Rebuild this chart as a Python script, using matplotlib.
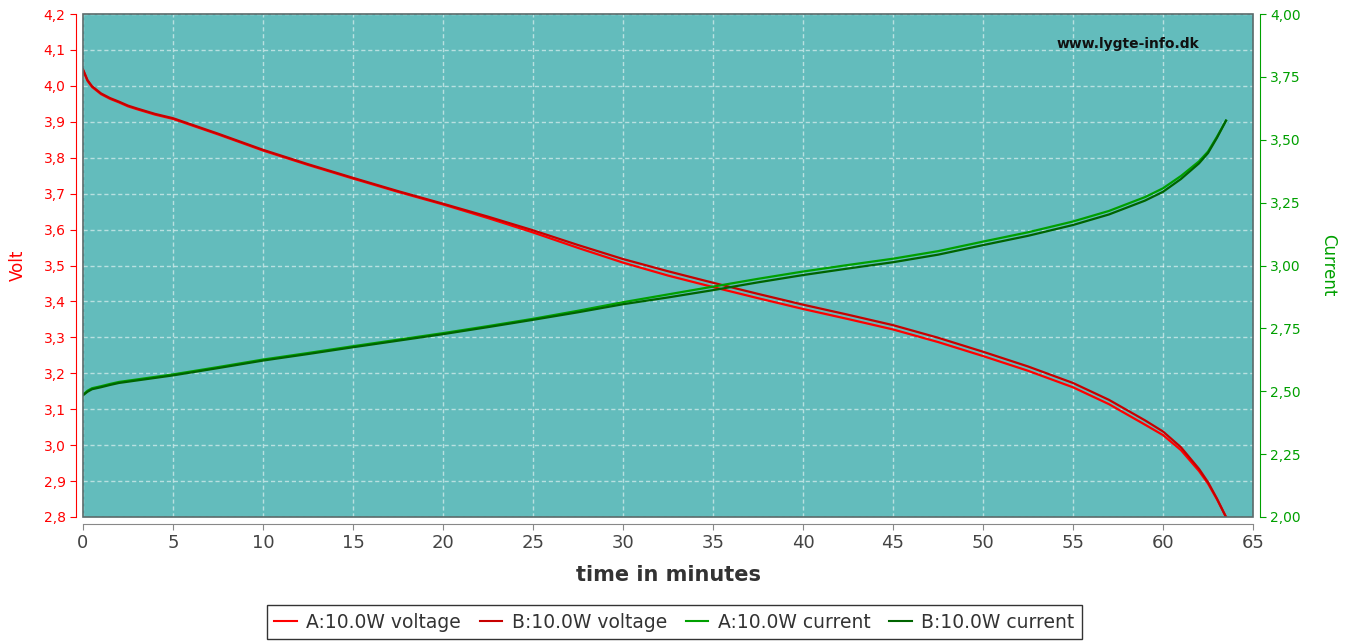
import matplotlib
matplotlib.use("Agg")
import matplotlib.pyplot as plt
from matplotlib.lines import Line2D
from matplotlib.patches import Rectangle
from matplotlib.ticker import MultipleLocator, FuncFormatter

# time in minutes
minutes = [0, 0.25, 0.5, 1, 1.5, 2, 2.5, 3, 4, 5, 7.5, 10, 12.5, 15, 17.5, 20,
           22.5, 25, 27.5, 30, 32.5, 35, 37.5, 40, 42.5, 45, 47.5, 50, 52.5, 55,
           57, 59, 60, 61, 62, 62.5, 63, 63.5]

volt_a = [4.044, 4.014, 3.997, 3.977, 3.964, 3.954, 3.943, 3.935, 3.920, 3.908,
          3.865, 3.820, 3.780, 3.742, 3.705, 3.670, 3.632, 3.592, 3.549, 3.508,
          3.472, 3.440, 3.409, 3.379, 3.351, 3.322, 3.287, 3.248, 3.207, 3.161,
          3.114, 3.057, 3.028, 2.986, 2.928, 2.893, 2.849, 2.800]
volt_b = [4.046, 4.016, 3.999, 3.979, 3.966, 3.956, 3.945, 3.937, 3.922, 3.910,
          3.867, 3.822, 3.782, 3.744, 3.707, 3.672, 3.636, 3.598, 3.557, 3.518,
          3.484, 3.452, 3.421, 3.391, 3.363, 3.334, 3.299, 3.260, 3.219, 3.173,
          3.126, 3.069, 3.038, 2.994, 2.934, 2.897, 2.851, 2.800]

curr_a = [2.486, 2.502, 2.512, 2.520, 2.529, 2.537, 2.542, 2.547, 2.557, 2.567,
          2.596, 2.626, 2.652, 2.679, 2.705, 2.731, 2.759, 2.788, 2.820, 2.854,
          2.885, 2.916, 2.947, 2.976, 3.002, 3.027, 3.057, 3.095, 3.132, 3.175,
          3.217, 3.272, 3.307, 3.356, 3.414, 3.453, 3.512, 3.576]
curr_b = [2.484, 2.498, 2.508, 2.516, 2.525, 2.533, 2.538, 2.543, 2.553, 2.563,
          2.592, 2.622, 2.648, 2.675, 2.701, 2.727, 2.755, 2.784, 2.814, 2.846,
          2.873, 2.902, 2.933, 2.962, 2.988, 3.013, 3.043, 3.081, 3.118, 3.161,
          3.203, 3.258, 3.293, 3.344, 3.406, 3.447, 3.508, 3.576]

labels = ["A:10.0W voltage", "B:10.0W voltage", "A:10.0W current", "B:10.0W current"]
colors = ["#ff0000", "#c80000", "#00a000", "#006400"]

fig = plt.figure(figsize=(13.54, 6.41), dpi=100)
ax = fig.add_axes([83 / 1354, 1 - 517 / 641, 1170 / 1354, 503 / 641])
ax.set_facecolor("#63bcbc")

ax.plot(minutes, volt_a, color=colors[0], lw=1.6, zorder=3)
ax.plot(minutes, volt_b, color=colors[1], lw=1.6, zorder=3)
ax.set_xlim(0, 65)
ax.set_ylim(2.8, 4.2)
ax.xaxis.set_major_locator(MultipleLocator(5))
ax.yaxis.set_major_locator(MultipleLocator(0.1))
ax.yaxis.set_major_formatter(FuncFormatter(lambda v, p: f"{v:.1f}".replace(".", ",")))
ax.grid(True, color="white", alpha=0.55, ls=(0, (3, 2)), lw=1)

for s in ["top", "right"]:
    ax.spines[s].set_visible(False)
ax.spines["left"].set_position(("outward", 5))
ax.spines["bottom"].set_position(("outward", 5))
ax.spines["left"].set_color("red")
ax.spines["bottom"].set_color("#888888")
ax.tick_params(axis="y", colors="red", labelsize=10, length=4)
ax.tick_params(axis="x", colors="#888888", labelcolor="#444444", labelsize=13, length=4)
ax.set_ylabel("Volt", color="red", fontsize=12, labelpad=12)
ax.set_xlabel("time in minutes", color="#333333", fontsize=15, fontweight="bold", labelpad=9)

ax2 = ax.twinx()
ax2.plot(minutes, curr_a, color=colors[2], lw=1.6, zorder=3)
ax2.plot(minutes, curr_b, color=colors[3], lw=1.6, zorder=3)
ax2.set_ylim(2.0, 4.0)
ax2.yaxis.set_major_locator(MultipleLocator(0.25))
ax2.yaxis.set_major_formatter(FuncFormatter(lambda v, p: f"{v:.2f}".replace(".", ",")))
for s in ["top", "left", "bottom"]:
    ax2.spines[s].set_visible(False)
ax2.spines["right"].set_position(("outward", 5))
ax2.spines["right"].set_color("#00a000")
ax2.tick_params(axis="y", colors="#00a000", labelsize=10, length=4)
ax2.set_ylabel("Current", color="#00a000", fontsize=12, rotation=270, labelpad=26)

# plot area border
ax2.add_patch(Rectangle((0, 0), 1, 1, transform=ax2.transAxes, fill=False,
                        edgecolor="#5a6a6a", lw=1.2, zorder=5, clip_on=False))

ax2.text(0.893, 0.94, "www.lygte-info.dk", transform=ax2.transAxes, ha="center",
         va="center", fontsize=10, color="#111111", fontweight="bold")

handles = [Line2D([], [], color=c, lw=1.5) for c in colors]
leg = fig.legend(handles, labels, loc="lower center", ncol=4,
                 bbox_to_anchor=(0.498, 0.0), fontsize=13.5, frameon=True,
                 fancybox=False, edgecolor="black", handlelength=1.2,
                 handletextpad=0.5, columnspacing=1.0, borderpad=0.4,
                 borderaxespad=0.1)
leg.get_frame().set_linewidth(1.0)
for t in leg.get_texts():
    t.set_color("#333333")

fig.savefig("out.png", dpi=100)
